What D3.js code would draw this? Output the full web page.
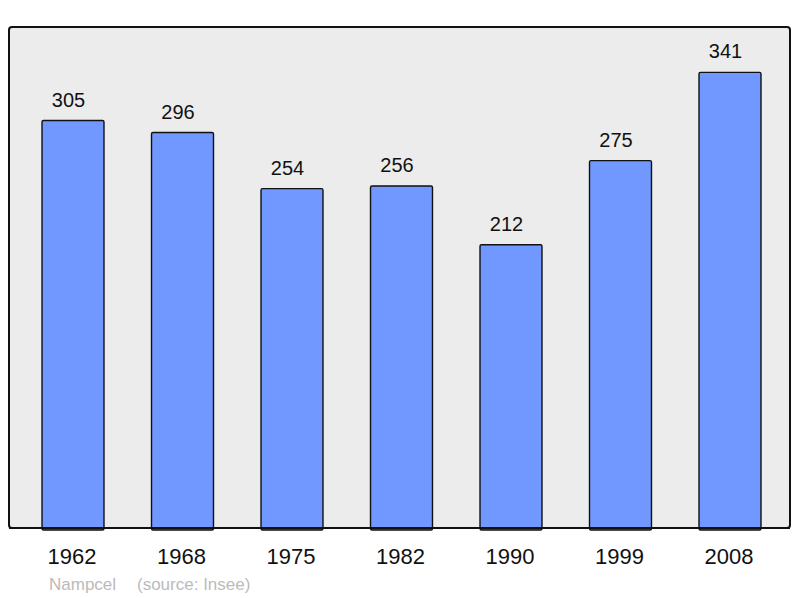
<!DOCTYPE html>
<html>
<head>
<meta charset="utf-8">
<script src="https://cdn.jsdelivr.net/npm/d3@7"></script>
<style>
  body { margin: 0; background: #fff; }
  text { font-family: "Liberation Sans", Arial, sans-serif; }
</style>
</head>
<body>
<div id="chart"></div>
<script>
const years = ['1962', '1968', '1975', '1982', '1990', '1999', '2008'];
const population = [305, 296, 254, 256, 212, 275, 341];
const commune = 'Nampcel';
const source = '(source: Insee)';

const width = 800, height = 598;
// plot frame, in pixels
const frame = { left: 9, top: 27, right: 790, bottom: 528 };

const svg = d3.select('#chart').append('svg')
  .attr('width', width)
  .attr('height', height);

svg.append('rect')
  .attr('x', frame.left)
  .attr('y', frame.top)
  .attr('width', frame.right - frame.left)
  .attr('height', frame.bottom - frame.top)
  .attr('rx', 3)
  .attr('fill', '#ececec')
  .attr('stroke', '#111')
  .attr('stroke-width', 2);

const x = d3.scaleBand()
  .domain(years)
  .range([18.25, 784.75])
  .paddingInner(0.434)
  .paddingOuter(0.217);

const y = d3.scaleLinear()
  .domain([0, 375])
  .range([frame.bottom, frame.top]);

const data = years.map((yr, i) => ({ year: yr, value: population[i] }));

svg.append('g').selectAll('rect')
  .data(data)
  .enter().append('rect')
  .attr('x', d => x(d.year))
  .attr('y', d => y(d.value))
  .attr('width', x.bandwidth())
  .attr('height', d => y(0) - y(d.value) + 2)
  .attr('rx', 1.5)
  .attr('fill', '#7098ff')
  .attr('stroke', '#111')
  .attr('stroke-width', 1.4);

// redraw the bottom edge of the frame over the bars
svg.append('line')
  .attr('x1', frame.left).attr('x2', frame.right)
  .attr('y1', frame.bottom).attr('y2', frame.bottom)
  .attr('stroke', '#111').attr('stroke-width', 2);

// value labels sit a little left of the bar centre, as in the original
svg.append('g').selectAll('text')
  .data(data)
  .enter().append('text')
  .attr('x', d => x(d.year) + x.bandwidth() / 2 - 4.5)
  .attr('y', d => y(d.value) - 14)
  .attr('text-anchor', 'middle')
  .attr('font-size', 20)
  .attr('fill', '#111')
  .text(d => d.value);

svg.append('g').selectAll('text')
  .data(years)
  .enter().append('text')
  .attr('x', d => x(d) + x.bandwidth() / 2 - 1)
  .attr('y', 564)
  .attr('text-anchor', 'middle')
  .attr('font-size', 22)
  .attr('fill', '#111')
  .text(d => d);

svg.append('text')
  .attr('x', 49).attr('y', 590)
  .attr('font-size', 17)
  .attr('fill', '#bbb')
  .text(commune);

svg.append('text')
  .attr('x', 137).attr('y', 590)
  .attr('font-size', 17)
  .attr('fill', '#bbb')
  .text(source);
</script>
</body>
</html>
